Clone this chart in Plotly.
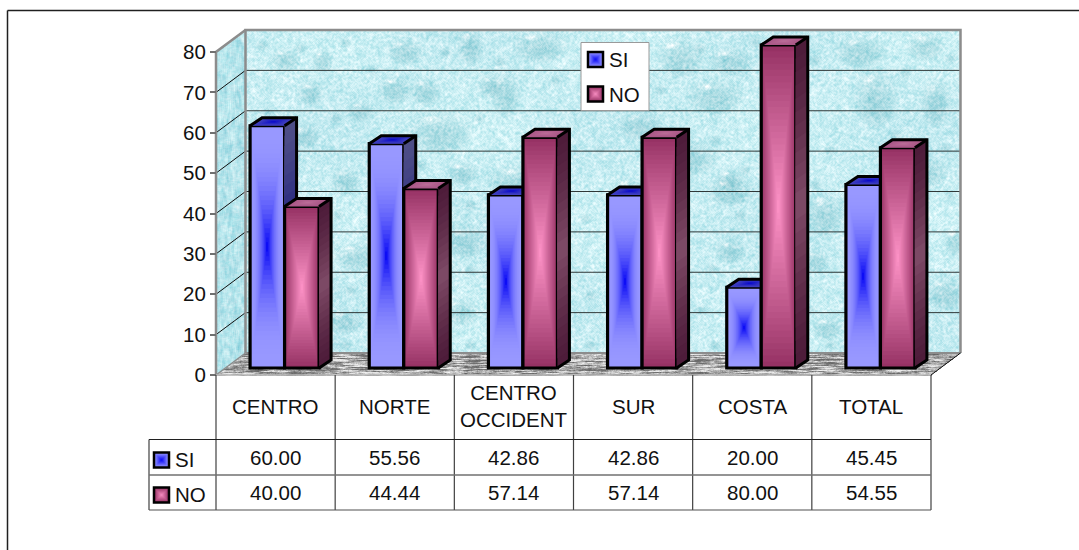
import base64
import struct
import zlib

import numpy as np
import plotly.graph_objects as go

# Survey results per zone
categories = ["CENTRO", "NORTE", "CENTRO<br>OCCIDENT", "SUR", "COSTA", "TOTAL"]
si_values = [60.00, 55.56, 42.86, 42.86, 20.00, 45.45]
no_values = [40.00, 44.44, 57.14, 57.14, 80.00, 54.55]
y_ticks = [0, 10, 20, 30, 40, 50, 60, 70, 80]

W, H = 1079, 550
FONT = "Liberation Sans, Arial, sans-serif"
FS = 20.5


def fx(px):
    return px / W


def fy(py):
    return 1 - py / H


# Frame of the front plane and of the plane holding the bars
AX_L, AX_R, AX_B, AX_T = 216.0, 931.0, 375.0, 52.0
BAR_DX, BAR_DY = 9.0, 7.0
CAT_PX = (AX_R - AX_L) / 6
UNIT_PX = (AX_B - AX_T) / 80
WALL_DX = 29.5 / CAT_PX
WALL_DY = 22.0 / UNIT_PX
SIDE_DX = 12.0 / CAT_PX
SIDE_DY = 8.0 / UNIT_PX
BAR_W = 34.5 / CAT_PX

# The subplots reach past the front plane so the 3D faces are not clipped
VIEW_L, VIEW_R, VIEW_B, VIEW_T = 205.0, 968.0, 381.0, 24.0
X_RANGE = [-0.5 + (VIEW_L - AX_L) / CAT_PX, -0.5 + (VIEW_R - AX_L) / CAT_PX]
Y_RANGE = [(AX_B - VIEW_B) / UNIT_PX, (AX_B - VIEW_T) / UNIT_PX]


# ---- Wall and floor texture -------------------------------------------------
# Water drops on the back wall: centre x, centre y, radius x, radius y
drops = [
    (285, 58, 14, 11), (322, 60, 10, 12), (405, 50, 17, 13), (470, 45, 12, 18),
    (540, 45, 25, 16), (425, 90, 14, 14), (310, 92, 12, 12), (395, 88, 16, 14),
    (490, 85, 12, 11), (505, 92, 14, 22), (305, 135, 13, 12), (440, 130, 30, 22),
    (360, 110, 12, 10), (462, 172, 14, 12), (345, 180, 14, 14), (520, 180, 30, 18),
    (600, 60, 22, 16), (680, 55, 22, 20), (730, 60, 20, 14), (715, 95, 26, 18),
    (640, 125, 20, 14), (690, 155, 25, 18), (860, 50, 24, 16), (925, 45, 18, 14),
    (875, 95, 20, 30), (935, 100, 14, 24), (825, 212, 17, 22), (925, 170, 20, 16),
    (630, 190, 18, 14), (730, 190, 22, 14), (465, 240, 20, 16), (355, 255, 18, 14),
    (545, 250, 18, 20), (640, 240, 20, 14), (730, 250, 14, 12), (945, 292, 17, 16),
    (815, 260, 12, 12), (730, 178, 13, 10), (460, 310, 18, 14), (660, 300, 20, 14),
    (740, 320, 14, 14), (345, 320, 16, 12), (620, 335, 16, 10), (880, 325, 18, 14),
    (827, 327, 14, 12), (900, 245, 10, 10), (955, 240, 10, 14),
]
# Smaller specks scattered between the drops
specks = [
    (262, 45), (300, 48), (345, 42), (372, 70), (445, 52), (500, 62), (555, 80), (610, 98),
    (660, 90), (700, 48), (755, 42), (815, 60), (905, 72), (950, 58), (268, 112), (335, 118),
    (380, 142), (420, 165), (478, 118), (565, 132), (600, 150), (665, 182), (715, 140),
    (745, 170), (830, 150), (895, 135), (945, 148), (262, 205), (338, 215), (410, 230),
    (470, 205), (585, 218), (612, 262), (680, 230), (712, 268), (740, 215), (815, 185),
    (905, 205), (950, 195), (350, 290), (415, 275), (470, 270), (590, 295), (620, 280),
    (700, 310), (735, 285), (810, 310), (895, 285), (925, 340), (470, 345), (345, 345),
    (590, 345), (715, 345), (830, 345), (905, 310),
]

IMG_X, IMG_Y = 214, 28
IMG_W, IMG_H = 748, 350
gy, gx = np.mgrid[IMG_Y:IMG_Y + IMG_H, IMG_X:IMG_X + IMG_W].astype(float)


def hashed(x, y):
    v = np.sin(x * 12.9898 + y * 78.233) * 43758.5453
    return 2 * (v - np.floor(v)) - 1


def smear(a, kx, ky):
    out = np.zeros_like(a)
    for i in range(-kx, kx + 1):
        for j in range(-ky, ky + 1):
            out += np.roll(np.roll(a, i, axis=1), j, axis=0)
    return out / ((2 * kx + 1) * (2 * ky + 1))


noise = hashed(gx, gy)
grain = 0.5 * noise + 1.4 * smear(noise, 1, 1)
blotch = 4.0 * smear(hashed(gx + 37, gy + 11), 3, 3)
swell = np.sin(0.021 * gx + 1.1) * np.sin(0.033 * gy + 0.4)

shade = np.zeros_like(gx)
gloss = np.zeros_like(gx)
for cx, cy, rx, ry in drops:
    d = np.sqrt(((gx - cx) / rx) ** 2 + ((gy - cy) / ry) ** 2)
    shade += np.clip(1.15 - d, 0, 1) ** 0.7 * (0.6 + 0.4 * (gy - cy) / ry)
    d2 = np.sqrt(((gx - cx + rx * 0.35) / (rx * 0.4)) ** 2 + ((gy - cy + ry * 0.5) / (ry * 0.22)) ** 2)
    gloss += np.clip(1 - d2, 0, 1)
for cx, cy in specks:
    d = np.sqrt(((gx - cx) / 6.0) ** 2 + ((gy - cy) / 5.0) ** 2)
    shade += 0.6 * np.clip(1.1 - d, 0, 1) ** 0.7
shade = smear(np.clip(shade, 0, 1), 1, 1)
gloss = np.clip(gloss, 0, 1)

water = np.stack(
    [
        200 + 26 * grain + 14 * blotch + 5 * swell - 52 * shade + 45 * gloss,
        238 + 11 * grain + 6 * blotch + 3 * swell - 32 * shade + 18 * gloss,
        243 + 9 * grain + 5 * blotch + 2 * swell - 28 * shade + 14 * gloss,
    ],
    axis=-1,
)

side_grain = 3.0 * smear(hashed(gx + 5, gy + 71), 1, 3)
side_wall = np.stack(
    [180 + 32 * side_grain + 10 * grain, 228 + 16 * side_grain, 235 + 12 * side_grain], axis=-1
)

streak = np.clip(4.5 * smear(hashed(gx + 19, gy + 3), 7, 0) + 1.5 * smear(hashed(gx + 2, gy + 47), 3, 1), -1, 1)
floor_rgb = 172 + 60 * streak + 12 * grain
floor = np.stack([floor_rgb] * 3, axis=-1)

back_mask = (gx >= 245) & (gx <= 960) & (gy >= 31) & (gy <= 353)
left_mask = (gx >= 216) & (gx < 245) & (gy >= 52 - (gx - 216) * 21 / 29) & (gy <= 375 - (gx - 216) * 22 / 29)
floor_mask = (gy > 353) & (gy <= 375) & (gx >= 216 + (375 - gy) * 29 / 22) & (gx <= 931 + (375 - gy) * 29 / 22)

rgba = np.zeros((IMG_H, IMG_W, 4), dtype=np.uint8)
rgba[back_mask, :3] = np.clip(water[back_mask], 0, 255)
rgba[left_mask, :3] = np.clip(side_wall[left_mask], 0, 255)
rgba[floor_mask, :3] = np.clip(floor[floor_mask], 0, 255)
rgba[back_mask | left_mask | floor_mask, 3] = 255


def png_uri(pixels):
    h, w, _ = pixels.shape
    raw = b"".join(b"\x00" + pixels[r].tobytes() for r in range(h))

    def chunk(tag, body):
        return struct.pack(">I", len(body)) + tag + body + struct.pack(">I", zlib.crc32(tag + body))

    data = b"\x89PNG\r\n\x1a\n"
    data += chunk(b"IHDR", struct.pack(">IIBBBBB", w, h, 8, 6, 0, 0, 0))
    data += chunk(b"IDAT", zlib.compress(raw, 9)) + chunk(b"IEND", b"")
    return "data:image/png;base64," + base64.b64encode(data).decode()


# ---- Colours of the centre-out bar shading ----------------------------------
def mix(a, b, s):
    return tuple(a[k] + (b[k] - a[k]) * s for k in range(3))


def css(c):
    return "rgb(%d,%d,%d)" % tuple(round(v) for v in c)


SERIES = {
    "SI": dict(
        edge=(152, 152, 255), core=(0, 0, 245), power=2.3,
        side_edge=(78, 78, 135), side_core=(20, 20, 125),
        top_edge=(65, 65, 190), top_core=(0, 0, 205),
    ),
    "NO": dict(
        edge=(150, 50, 100), core=(255, 148, 200), power=0.95,
        side_edge=(78, 28, 58), side_core=(130, 78, 106),
        top_edge=(170, 88, 135), top_core=(190, 112, 155),
    ),
}

fig = go.Figure()

# ---- Back wall grid, left wall diagonals and wall edges ---------------------
gx_vals, gy_vals, dx_vals, dy_vals = [], [], [], []
for t in y_ticks[1:-1]:
    gx_vals += [-0.5 + WALL_DX, 5.5 + WALL_DX, None]
    gy_vals += [t + WALL_DY, t + WALL_DY, None]
for t in y_ticks[1:-1]:
    dx_vals += [-0.5, -0.5 + WALL_DX, None]
    dy_vals += [t, t + WALL_DY, None]
for xs, ys, col, wd in [
    (gx_vals, gy_vals, "#303838", 1),
    (dx_vals, dy_vals, "#101010", 1),
    ([-0.5 + WALL_DX, -0.5 + WALL_DX, 5.5 + WALL_DX, 5.5 + WALL_DX],
     [WALL_DY, 80 + WALL_DY, 80 + WALL_DY, WALL_DY], "#8c8c8c", 2.5),
    ([-0.5, -0.5, -0.5 + WALL_DX], [0, 80, 80 + WALL_DY], "#8c8c8c", 2.5),
    ([-0.5 + WALL_DX, 5.5 + WALL_DX], [WALL_DY, WALL_DY], "#8c8c8c", 2),
    ([-0.5, -0.5 + WALL_DX], [0, WALL_DY], "#8c8c8c", 1.5),
    ([5.5, 5.5 + WALL_DX], [0, WALL_DY], "#101010", 1),
    ([-0.5, 5.5], [0, 0], "#b8b8b8", 1.5),
]:
    fig.add_trace(go.Scatter(x=xs, y=ys, mode="lines", line=dict(color=col, width=wd),
                             hoverinfo="skip", showlegend=False, xaxis="x", yaxis="y"))


# ---- One subplot per series keeps NO painted over the SI side faces ---------
def add_series(name, values, shift, axis_id):
    style = SERIES[name]
    xa, ya = "x" + axis_id, "y" + axis_id
    pos = [i + shift for i in range(len(values))]

    # Side faces, shaded from both ends towards the middle
    levels = 12
    for k in range(levels):
        t = 0.5 * k / levels
        c = mix(style["side_edge"], style["side_core"], (2 * t) ** 1.3)
        xs, ys = [], []
        for p, v in zip(pos, values):
            x1 = p + BAR_W / 2
            lo, hi = v * t, v * (1 - t)
            xs += [x1, x1 + SIDE_DX, x1 + SIDE_DX, x1, x1, None]
            ys += [lo, lo + SIDE_DY, hi + SIDE_DY, hi, lo, None]
        fig.add_trace(go.Scatter(x=xs, y=ys, mode="lines", fill="toself", fillcolor=css(c),
                                 line=dict(width=0), hoverinfo="skip", showlegend=False,
                                 xaxis=xa, yaxis=ya))

    # Top faces, shaded towards their centre
    for k in range(8):
        t = k / 8
        c = mix(style["top_edge"], style["top_core"], t ** 1.5)
        xs, ys = [], []
        for p, v in zip(pos, values):
            x0, x1 = p - BAR_W / 2, p + BAR_W / 2
            cx, cy = p + SIDE_DX / 2, v + SIDE_DY / 2
            for qx, qy in [(x0, v), (x1, v), (x1 + SIDE_DX, v + SIDE_DY), (x0 + SIDE_DX, v + SIDE_DY), (x0, v)]:
                xs.append(qx + (cx - qx) * t)
                ys.append(qy + (cy - qy) * t)
            xs.append(None)
            ys.append(None)
        fig.add_trace(go.Scatter(x=xs, y=ys, mode="lines", fill="toself", fillcolor=css(c),
                                 line=dict(width=0), hoverinfo="skip", showlegend=False,
                                 xaxis=xa, yaxis=ya))

    # Outlines of the side and top faces
    xs, ys = [], []
    for p, v in zip(pos, values):
        x0, x1 = p - BAR_W / 2, p + BAR_W / 2
        xs += [x0, x0 + SIDE_DX, x1 + SIDE_DX, x1 + SIDE_DX, x1, None, x1, x1 + SIDE_DX, None]
        ys += [v, v + SIDE_DY, v + SIDE_DY, SIDE_DY, 0, None, v, v + SIDE_DY, None]
    fig.add_trace(go.Scatter(x=xs, y=ys, mode="lines", line=dict(color="#000000", width=3),
                             hoverinfo="skip", showlegend=False, xaxis=xa, yaxis=ya))

    # Front faces: nested bars of the same value, each one smaller and further along the ramp
    steps = 26
    for k in range(steps):
        t = 0.5 * k / steps
        c = mix(style["edge"], style["core"], (2 * t) ** style["power"])
        fig.add_trace(go.Bar(
            x=pos,
            y=[v * (1 - 2 * t) for v in values],
            base=[v * t for v in values],
            width=BAR_W * (1 - 2 * t),
            marker=dict(color=css(c), line=dict(width=0)),
            name=name, showlegend=False, hoverinfo="skip", cliponaxis=False,
            xaxis=xa, yaxis=ya,
        ))
    fig.add_trace(go.Bar(
        x=pos, y=values, width=BAR_W,
        marker=dict(color="rgba(0,0,0,0)", line=dict(color="#000000", width=3.2)),
        name=name, showlegend=False, hoverinfo="skip", cliponaxis=False,
        xaxis=xa, yaxis=ya,
    ))


add_series("SI", si_values, -BAR_W / 2, "2")
add_series("NO", no_values, BAR_W / 2, "3")

# ---- Shapes: outer frame, data table, legend box and swatches ---------------
shapes = []


def line(x0, y0, x1, y1, color, width):
    shapes.append(dict(type="line", xref="paper", yref="paper", x0=fx(x0), y0=fy(y0), x1=fx(x1), y1=fy(y1),
                       line=dict(color=color, width=width), layer="above"))


def swatch(x0, y0, size, style):
    for k in range(7):
        t = 0.5 * k / 7
        c = mix(style["edge"], style["core"], (2 * t) ** 1.0)
        shapes.append(dict(type="rect", xref="paper", yref="paper",
                           x0=fx(x0 + size * t), x1=fx(x0 + size * (1 - t)),
                           y0=fy(y0 + size * t), y1=fy(y0 + size * (1 - t)),
                           fillcolor=css(c), line=dict(width=0), layer="above"))
    shapes.append(dict(type="rect", xref="paper", yref="paper", x0=fx(x0), x1=fx(x0 + size),
                       y0=fy(y0), y1=fy(y0 + size), fillcolor="rgba(0,0,0,0)",
                       line=dict(color="#000000", width=2.5), layer="above"))


line(7.5, 10.5, W, 10.5, "#202020", 1.5)
line(7.5, 10.5, 7.5, H, "#202020", 1.5)

ROW_TOP, ROW_HEAD, ROW_SI, ROW_NO = 375, 439.5, 475, 510
for i in range(7):
    x = AX_L + i * CAT_PX
    line(x, ROW_TOP, x, ROW_NO, "#404040", 1.2)
line(149, ROW_HEAD, 149, ROW_NO, "#404040", 1.2)
line(149, ROW_HEAD, AX_R, ROW_HEAD, "#202020", 1.2)
line(149, ROW_SI, AX_R, ROW_SI, "#707070", 1.5)
line(149, ROW_NO, AX_R, ROW_NO, "#505050", 1.2)
swatch(154, 452.5, 15, SERIES["SI"])
swatch(154, 487.5, 15, SERIES["NO"])

shapes.append(dict(type="rect", xref="paper", yref="paper", x0=fx(581), x1=fx(649), y0=fy(42.5), y1=fy(110.5),
                   fillcolor="#ffffff", line=dict(color="#9a9a9a", width=1), layer="above"))
swatch(588, 52, 15, SERIES["SI"])
swatch(588, 86.5, 15, SERIES["NO"])

# ---- Table and legend text --------------------------------------------------
notes = []


def note(text, x, y, xanchor="center", xref="paper"):
    notes.append(dict(text=text, x=x if xref == "x" else fx(x), y=fy(y), xref=xref, yref="paper",
                      xanchor=xanchor, yanchor="middle", showarrow=False, align="center",
                      font=dict(family=FONT, size=FS, color="#111111")))


for i, cat in enumerate(categories):
    note(cat, i, 406, xref="x")
    note(f"{si_values[i]:.2f}", i, 457, xref="x")
    note(f"{no_values[i]:.2f}", i, 492, xref="x")
note("SI", 173, 459, "left")
note("NO", 173, 494, "left")
note("SI", 607, 59.5, "left")
note("NO", 607, 94, "left")

bars_x = dict(visible=False, range=X_RANGE, domain=[fx(VIEW_L + BAR_DX), fx(VIEW_R + BAR_DX)], fixedrange=True)
bars_y = dict(visible=False, range=Y_RANGE, domain=[fy(VIEW_B - BAR_DY), fy(VIEW_T - BAR_DY)], fixedrange=True)

fig.update_layout(
    width=W, height=H, autosize=False,
    margin=dict(l=0, r=0, t=0, b=0, pad=0, autoexpand=False),
    paper_bgcolor="#ffffff", plot_bgcolor="rgba(0,0,0,0)",
    barmode="overlay", showlegend=False,
    font=dict(family=FONT, size=FS, color="#111111"),
    xaxis=dict(visible=False, range=X_RANGE, domain=[fx(VIEW_L), fx(VIEW_R)], fixedrange=True),
    yaxis=dict(range=Y_RANGE, domain=[fy(VIEW_B), fy(VIEW_T)], tickvals=y_ticks, ticks="outside",
               ticklen=6, tickwidth=1.5, tickcolor="#707070", showgrid=False, zeroline=False,
               showline=False, fixedrange=True, anchor="free", position=fx(AX_L),
               tickfont=dict(family=FONT, size=FS, color="#111111")),
    xaxis2=dict(bars_x, anchor="y2"),
    yaxis2=dict(bars_y, anchor="x2"),
    xaxis3=dict(bars_x, anchor="y3"),
    yaxis3=dict(bars_y, anchor="x3"),
    images=[dict(source=png_uri(rgba), xref="paper", yref="paper", x=fx(IMG_X), y=fy(IMG_Y),
                 sizex=IMG_W / W, sizey=IMG_H / H, xanchor="left", yanchor="top",
                 sizing="stretch", layer="below")],
    shapes=shapes,
    annotations=notes,
)

fig.write_html("out.html")
